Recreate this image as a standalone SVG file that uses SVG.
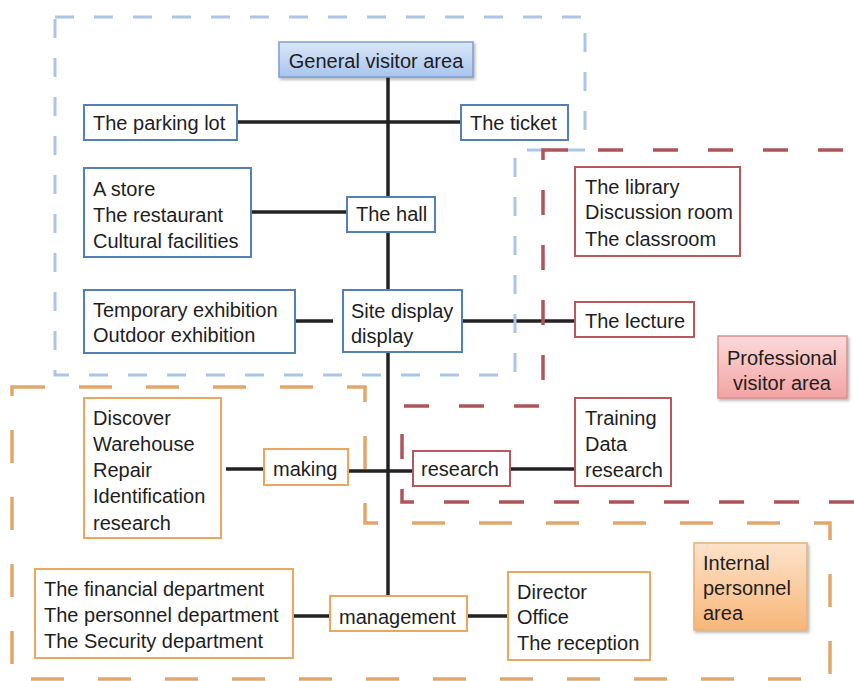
<svg xmlns="http://www.w3.org/2000/svg" width="854" height="681" viewBox="0 0 854 681">
  <defs>
    <linearGradient id="gBlue" x1="0" y1="0" x2="0" y2="1">
      <stop offset="0" stop-color="#dbe7f8"/>
      <stop offset="1" stop-color="#a8c4ee"/>
    </linearGradient>
    <linearGradient id="gPink" x1="0" y1="0" x2="0" y2="1">
      <stop offset="0" stop-color="#fbdada"/>
      <stop offset="1" stop-color="#f3a3a3"/>
    </linearGradient>
    <linearGradient id="gOrange" x1="0" y1="0" x2="0" y2="1">
      <stop offset="0" stop-color="#fde3cb"/>
      <stop offset="1" stop-color="#f8b679"/>
    </linearGradient>
    <filter id="shadow" x="-10%" y="-10%" width="125%" height="130%">
      <feDropShadow dx="1.5" dy="2" stdDeviation="1.5" flood-color="#000" flood-opacity="0.3"/>
    </filter>
  </defs>
  <style>
    text { font-family: "Liberation Sans", Arial, sans-serif; font-size: 20px; fill: #1e1e1e; }
    .blue { fill: #ffffff; stroke: #5480b8; stroke-width: 2; }
    .red { fill: #ffffff; stroke: #b9575a; stroke-width: 2; }
    .orange { fill: #ffffff; stroke: #eba661; stroke-width: 2; }
    .link { stroke: #222222; stroke-width: 3.5; fill: none; }
    .zone { fill: none; stroke-width: 3.5; }
    .zone-blue { stroke: #abc5e8; stroke-dasharray: 19 20; stroke-width: 3; }
    .zone-red { stroke: #ad555b; stroke-dasharray: 25 30; }
    .zone-orange { stroke: #e3a66a; stroke-dasharray: 33 34; }
    .c { text-anchor: middle; }
  </style>

  <rect width="854" height="681" fill="#ffffff"/>

  <!-- connectors -->
  <g id="connectors">
    <line class="link" x1="388" y1="77" x2="388" y2="596"/>
    <line class="link" x1="237" y1="122" x2="461" y2="122"/>
    <line class="link" x1="251" y1="212" x2="347" y2="212"/>
    <line class="link" x1="295" y1="321" x2="333" y2="321"/>
    <line class="link" x1="462" y1="321" x2="575" y2="321"/>
    <line class="link" x1="226" y1="469" x2="264" y2="469"/>
    <line class="link" x1="348" y1="471" x2="413" y2="471"/>
    <line class="link" x1="510" y1="469" x2="575" y2="469"/>
    <line class="link" x1="291" y1="616" x2="330" y2="616"/>
    <line class="link" x1="467" y1="616" x2="508" y2="616"/>
  </g>

  <!-- area outlines -->
  <g id="zones">
    <path class="zone zone-blue" d="M55,17 H585 V150 H515 V375 H55 Z"/>
    <path class="zone zone-red" d="M543,150 H880 V502 H402 V406 H543 Z"/>
    <path class="zone zone-orange" d="M12,387 H365 V523 H830 V679 H12 Z"/>
  </g>

  <!-- general visitor area -->
  <g id="general-visitor-area">
    <rect x="279" y="42" width="194" height="35" fill="url(#gBlue)" stroke="#7c9ed0" stroke-width="1.5" filter="url(#shadow)"/>
    <text class="c" x="376" y="68">General visitor area</text>
  </g>
  <g id="parking-lot">
    <rect class="blue" x="84" y="105" width="153" height="35"/>
    <text x="93" y="130">The parking lot</text>
  </g>
  <g id="ticket">
    <rect class="blue" x="461" y="105" width="107" height="35"/>
    <text x="470" y="130">The ticket</text>
  </g>
  <g id="store">
    <rect class="blue" x="84" y="168" width="167" height="89"/>
    <text x="93" y="196">A store</text>
    <text x="93" y="222">The restaurant</text>
    <text x="93" y="248">Cultural facilities</text>
  </g>
  <g id="hall">
    <rect class="blue" x="347" y="197" width="88" height="35"/>
    <text x="356" y="221">The hall</text>
  </g>
  <g id="exhibitions">
    <rect class="blue" x="84" y="290" width="211" height="63"/>
    <text x="93" y="317">Temporary exhibition</text>
    <text x="93" y="342">Outdoor exhibition</text>
  </g>
  <g id="site-display">
    <rect class="blue" x="343" y="290" width="119" height="62"/>
    <text x="351" y="318">Site display</text>
    <text x="351" y="343">display</text>
  </g>

  <!-- professional visitor area -->
  <g id="library">
    <rect class="red" x="575" y="167" width="165" height="89"/>
    <text x="585" y="194">The library</text>
    <text x="585" y="219">Discussion room</text>
    <text x="585" y="246">The classroom</text>
  </g>
  <g id="lecture">
    <rect class="red" x="575" y="302" width="119" height="35"/>
    <text x="585" y="328">The lecture</text>
  </g>
  <g id="professional-visitor-area">
    <rect x="718" y="336" width="129" height="62" fill="url(#gPink)" stroke="#d99090" stroke-width="1.5" filter="url(#shadow)"/>
    <text class="c" x="782" y="365">Professional</text>
    <text class="c" x="782" y="390">visitor area</text>
  </g>
  <g id="research">
    <rect class="red" x="413" y="451" width="97" height="35"/>
    <text x="421" y="476">research</text>
  </g>
  <g id="training">
    <rect class="red" x="575" y="398" width="96" height="88"/>
    <text x="585" y="425">Training</text>
    <text x="585" y="451">Data</text>
    <text x="585" y="477">research</text>
  </g>

  <!-- internal personnel area -->
  <g id="collection">
    <rect class="orange" x="84" y="398" width="137" height="140"/>
    <text x="93" y="425">Discover</text>
    <text x="93" y="451">Warehouse</text>
    <text x="93" y="477">Repair</text>
    <text x="93" y="503">Identification</text>
    <text x="93" y="530">research</text>
  </g>
  <g id="making">
    <rect class="orange" x="264" y="449" width="84" height="36"/>
    <text x="273" y="476">making</text>
  </g>
  <g id="departments">
    <rect class="orange" x="35" y="569" width="258" height="89"/>
    <text x="44" y="596">The financial department</text>
    <text x="44" y="622">The personnel department</text>
    <text x="44" y="648">The Security department</text>
  </g>
  <g id="management">
    <rect class="orange" x="330" y="596" width="137" height="35"/>
    <text x="339" y="624">management</text>
  </g>
  <g id="director">
    <rect class="orange" x="508" y="572" width="142" height="88"/>
    <text x="517" y="599">Director</text>
    <text x="517" y="624">Office</text>
    <text x="517" y="650">The reception</text>
  </g>
  <g id="internal-personnel-area">
    <rect x="694" y="543" width="113" height="87" fill="url(#gOrange)" stroke="#e8b07a" stroke-width="1.5" filter="url(#shadow)"/>
    <text x="703" y="570">Internal</text>
    <text x="703" y="595">personnel</text>
    <text x="703" y="620">area</text>
  </g>
</svg>
